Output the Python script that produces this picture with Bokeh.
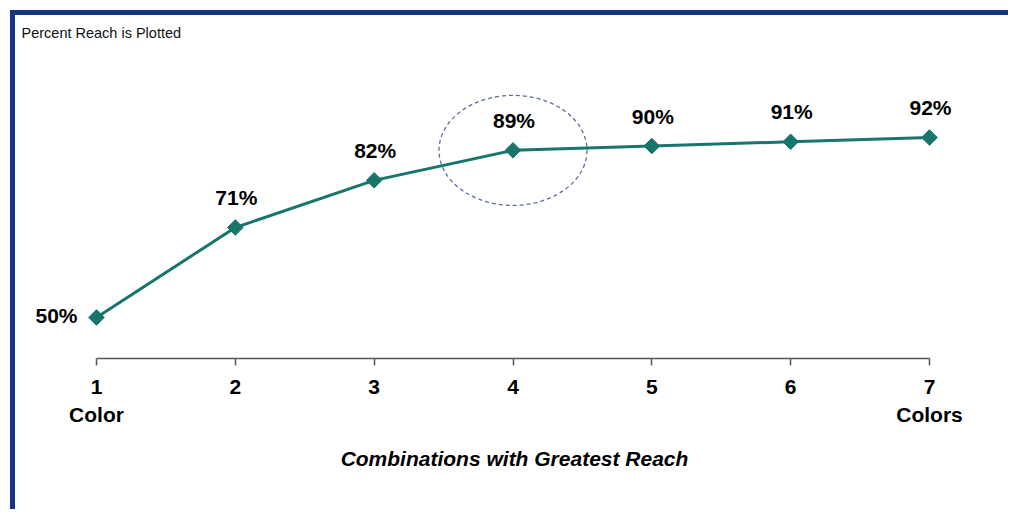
import math
from bokeh.plotting import figure
from bokeh.models import ColumnDataSource, LabelSet, FixedTicker, Range1d
from bokeh.core.properties import value
from bokeh.embed import file_html
from bokeh.resources import INLINE

# ---- data ----
combinations = [1, 2, 3, 4, 5, 6, 7]
reach = [50, 71, 82, 89, 90, 91, 92]
tick_labels = {1: "1\nColor", 7: "7\nColors"}
highlight_index = 3
title_text = "Percent Reach is Plotted"
x_title = "Combinations with Greatest Reach"

LINE = "#17756c"
FONT = "Liberation Sans"

p = figure(width=998, height=499, output_backend="svg", toolbar_location=None,
           x_range=Range1d(0.4526, 7.569), y_range=Range1d(40.43, 113.93),
           y_axis_location=None, min_border_left=5, min_border_right=5,
           min_border_top=28, min_border_bottom=156)
p.margin = (10, 0, 0, 10)
p.styles = {"border-top": "5px solid #143580", "border-left": "5px solid #143580"}
p.background_fill_color = "white"
p.border_fill_color = "white"
p.outline_line_color = None
p.grid.visible = False

p.title.text = title_text
p.title.text_font = FONT
p.title.text_font_size = "14.5px"
p.title.text_font_style = "normal"
p.title.text_color = "#111111"
p.title.offset = 1
p.title.standoff = 5

ax = p.xaxis[0]
ax.ticker = FixedTicker(ticks=combinations)
ax.bounds = (combinations[0], combinations[-1])
ax.major_label_overrides = tick_labels
ax.minor_tick_line_color = None
ax.major_tick_in = 0
ax.major_tick_out = 7
ax.axis_line_color = "#555555"
ax.axis_line_width = 1.5
ax.major_tick_line_color = "#555555"
ax.major_tick_line_width = 1.5
ax.major_label_text_font = FONT
ax.major_label_text_font_style = "bold"
ax.major_label_text_font_size = "21px"
ax.major_label_text_color = "black"
ax.major_label_text_line_height = 1.25
ax.major_label_standoff = 9
ax.axis_label = x_title
ax.axis_label_text_font = FONT
ax.axis_label_text_font_style = "bold italic"
ax.axis_label_text_font_size = "21px"
ax.axis_label_text_color = "black"
ax.axis_label_standoff = 18

src = ColumnDataSource(dict(x=combinations, y=reach, lab=[f"{v}%" for v in reach]))
p.line("x", "y", source=src, line_color=LINE, line_width=3)
p.scatter("x", "y", source=src, marker="square", angle=math.pi / 4, size=11,
          fill_color=LINE, line_color=LINE)

# highlight ellipse
p.ellipse(x=[combinations[highlight_index]], y=[reach[highlight_index]],
          width=148, height=110, width_units="screen", height_units="screen",
          fill_color=None, line_color="#5b6f9e", line_dash="4 3", line_width=1.3)

first = ColumnDataSource(dict(x=combinations[:1], y=reach[:1], lab=[f"{v}%" for v in reach[:1]]))
rest = ColumnDataSource(dict(x=combinations[1:], y=reach[1:], lab=[f"{v}%" for v in reach[1:]]))
p.add_layout(LabelSet(x="x", y="y", text="lab", source=first, x_offset=-19, y_offset=2,
                      text_align="right", text_baseline="middle",
                      text_font=value(FONT), text_font_style="bold", text_font_size="21px",
                      text_color="black"))
p.add_layout(LabelSet(x="x", y="y", text="lab", source=rest, x_offset=1, y_offset=30,
                      text_align="center", text_baseline="middle",
                      text_font=value(FONT), text_font_style="bold", text_font_size="21px",
                      text_color="black"))

open("out.html", "w").write(file_html(p, INLINE))
